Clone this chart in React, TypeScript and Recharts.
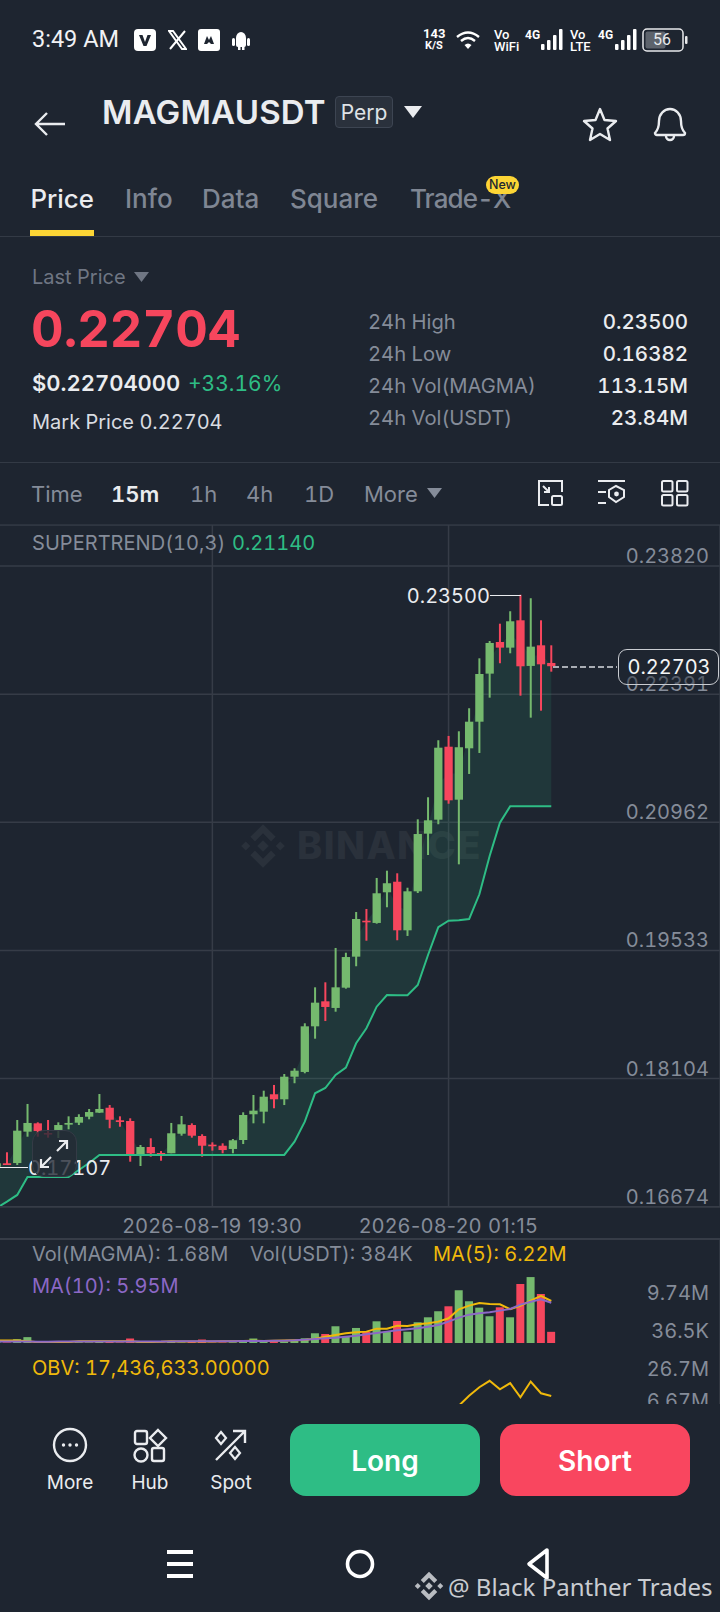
import React from "react";
import { ComposedChart, Bar, Line, Area, XAxis, YAxis, CartesianGrid, Cell } from "recharts";

const opens = [.22739,.22936,.22706,.23215,.22910,.22973,.22620,.22084,.21787,.21214,.21805,.20991,.20835,.20192,.19757,.20299,.20181,.19839,.19864,.19463,.19117,.18891,.18965,.18686,.18177,.18124,.17872,.17928,.17734,.17705,.17418,.17318,.17354,.17366,.17463,.17585,.17488,.17270,.17273,.17340,.17259,.17630,.17638,.17778,.17723,.17678,.17611,.17589,.17530,.17496,.17604,.17511,.17161,.17158,.17120];
const closes = [.22703,.22724,.22921,.22702,.23204,.22910,.22962,.22616,.22084,.21799,.21207,.21794,.20984,.20831,.20192,.19757,.20282,.20170,.19846,.19883,.19459,.19121,.18902,.18950,.18686,.18191,.18124,.17872,.17901,.17745,.17697,.17415,.17306,.17348,.17354,.17466,.17593,.17493,.17251,.17270,.17340,.17259,.17619,.17644,.17764,.17730,.17675,.17608,.17585,.17482,.17518,.17608,.17522,.17139,.17158];
const highs = [.22936,.23215,.23461,.23500,.23316,.23177,.22984,.22791,.22234,.21977,.21925,.21877,.21241,.20995,.20232,.20393,.20422,.20341,.19995,.19961,.19507,.19560,.19177,.19121,.18720,.18218,.18154,.18032,.17968,.17920,.17727,.17429,.17381,.17392,.17482,.17604,.17686,.17608,.17295,.17437,.17362,.17660,.17682,.17808,.17931,.17764,.17705,.17682,.17615,.17641,.17615,.17820,.17641,.17281,.17161];
const lows = [.22642,.22207,.22129,.22374,.22847,.22736,.22352,.21735,.21501,.20493,.21169,.20940,.20597,.20173,.19694,.19646,.20014,.19831,.19641,.19356,.19106,.18849,.18745,.18548,.18162,.18051,.17808,.17772,.17604,.17604,.17373,.17270,.17270,.17299,.17232,.17444,.17466,.17270,.17187,.17232,.17128,.17176,.17566,.17549,.17719,.17649,.17585,.17537,.17440,.17444,.17455,.17455,.17139,.17139,.17107];
const supertrend = [.21140,.21140,.21140,.21140,.21140,.20958,.20586,.20159,.19883,.19869,.19864,.19791,.19482,.19147,.19032,.19032,.19035,.18905,.18664,.18497,.18225,.18143,.17998,.17939,.17622,.17399,.17251,.17251,.17251,.17251,.17251,.17251,.17251,.17251,.17251,.17251,.17251,.17251,.17251,.17251,.17251,.17251,.17251,.17251,.17251,.17161,.17083,.17005,.17005,.17005,.17005,.17005,.16805,.16730,.16660];
const volumes = [1.68,7.25,9.74,8.72,3.82,5.29,3.97,5.24,6.18,7.80,5.44,4.71,3.82,3.09,1.70,3.28,1.66,3.23,1.70,2.25,.92,2.50,1.36,1.47,.73,.48,.25,.30,.25,.70,.30,.15,.12,.10,.55,.30,.12,.25,.08,.10,.30,.70,.12,.20,.22,.12,.15,.10,.20,.12,.18,.90,.60,.12,.15];
const ma5 = [6.22,6.96,6.27,5.49,5.00,5.73,5.78,5.93,5.54,5.00,3.67,3.18,2.94,2.79,2.54,2.59,2.15,2.15,1.71,1.61,1.46,1.22,.97,.68,.48,.43,.40,.36,.34,.36,.32,.30,.28,.24,.26,.26,.24,.28,.22,.20,.20,.30,.28,.28,.30,.28,.28,.20,.18,.16,.16,.30,.40,.40,.38];
const ma10 = [5.95,6.47,6.12,5.68,5.04,4.80,4.55,4.41,4.21,3.77,3.18,2.69,2.44,2.20,2.05,1.91,1.71,1.51,1.32,1.12,.97,.82,.73,.63,.53,.43,.38,.36,.34,.33,.32,.31,.30,.30,.30,.29,.28,.27,.25,.25,.24,.25,.24,.24,.24,.24,.24,.24,.24,.23,.22,.24,.25,.24,.24];
const obvRecent = [17.44,19.12,26.37,16.63,25.35,21.53,26.82,22.85,17.61,11.43];

const priceTicks = [0.16674, 0.18104, 0.19533, 0.20962, 0.22391, 0.2382];
const volumeTicks = [0.0365, 9.74];
const obvTicks = [6.67, 26.7];
const timeTickIndex = [21, 44];
const timeLabels = ["2026-08-19 19:30", "2026-08-20 01:15"];

const N = opens.length;
const rows = opens.map((_, k) => {
  const o = opens[k], c = closes[k];
  return {
    idx: N - 1 - k,
    open: o,
    close: c,
    high: highs[k],
    low: lows[k],
    range: [lows[k], highs[k]],
    supertrend: supertrend[k],
    band: [supertrend[k], (o + c) / 2],
    vol: volumes[k],
    ma5: ma5[k],
    ma10: ma10[k],
    obv: k < obvRecent.length ? obvRecent[k] : null,
  };
}).reverse();

const BG = "#1e2530";
const GRID = "#363c47";
const GREEN = "#75b96e";
const RED = "#f6465d";
const TEAL = "#2ebd85";
const GREY = "#858c99";
const FONT = "Inter, sans-serif";
const TAB = { fontVariantNumeric: "tabular-nums" } as any;
const CW = 740;
const XDOMAIN: [number, number] = [-1.626, 70.43];

function Candle(props: any) {
  const { x, y, width, height, payload } = props;
  const cx = x + width / 2;
  const span = payload.high - payload.low || 1;
  const top = y + ((payload.high - Math.max(payload.open, payload.close)) / span) * height;
  const bot = y + ((payload.high - Math.min(payload.open, payload.close)) / span) * height;
  const col = payload.close >= payload.open ? GREEN : RED;
  return (
    <g>
      <rect x={cx - 1} y={y} width={2} height={height} fill={col} />
      <rect x={x} y={top} width={width} height={Math.max(bot - top, 1.6)} fill={col} />
    </g>
  );
}

function priceTick(props: any) {
  const { y, payload } = props;
  return (
    <text x={CW - 11} y={y - 10} textAnchor="end" dominantBaseline="central" fontFamily={FONT} fontSize={20} fill={GREY} style={TAB}>
      {payload.value.toFixed(5)}
    </text>
  );
}
function volTick(props: any) {
  const { y, payload } = props;
  const isTop = payload.value > 1;
  return (
    <text x={CW - 11} y={isTop ? y + 15.5 : y - 12} textAnchor="end" dominantBaseline="central" fontFamily={FONT} fontSize={20} fill={GREY} style={TAB}>
      {isTop ? "9.74M" : "36.5K"}
    </text>
  );
}
function obvTick(props: any) {
  const { y, payload } = props;
  return (
    <text x={CW - 11} y={y - 12} textAnchor="end" dominantBaseline="central" fontFamily={FONT} fontSize={20} fill={GREY} style={TAB}>
      {payload.value + "M"}
    </text>
  );
}
function timeTick(props: any) {
  const { x, y, payload } = props;
  const label = timeLabels[timeTickIndex.indexOf(payload.value)];
  return (
    <text x={x} y={y + 11} textAnchor="middle" dominantBaseline="central" fontFamily={FONT} fontSize={20} letterSpacing={0.6} fill={GREY}>
      {label}
    </text>
  );
}

function T({ x, y, s = 20, c = GREY, w = 400, r, ca, ff = FONT, ls, children }: any) {
  const st: any = {
    position: "absolute",
    top: y,
    whiteSpace: "nowrap",
    fontFamily: ff,
    fontSize: s,
    color: c,
    fontWeight: w,
    lineHeight: 1,
    letterSpacing: ls,
    fontVariantNumeric: "tabular-nums",
    transform: ca ? "translate(-50%,-50%)" : "translateY(-50%)",
  };
  if (r !== undefined) st.right = 720 - r;
  else st.left = x;
  return <div style={st}>{children}</div>;
}
function Box({ x, y, w, h, style }: any) {
  return <div style={{ position: "absolute", left: x, top: y, width: w, height: h, ...style }} />;
}
function Svg({ x, y, w, h, children, vb }: any) {
  return (
    <svg style={{ position: "absolute", left: x, top: y }} width={w} height={h} viewBox={vb || `0 0 ${w} ${h}`}>
      {children}
    </svg>
  );
}
function Bars({ x, y }: any) {
  return (
    <Svg x={x} y={y} w={22} h={22}>
      <rect x="0" y="15" width="3.5" height="6" rx="1" fill="#fff" />
      <rect x="6" y="11" width="3.5" height="10" rx="1" fill="#fff" />
      <rect x="12" y="6" width="3.5" height="15" rx="1" fill="#fff" />
      <rect x="18" y="0" width="3.5" height="21" rx="1" fill="#fff" />
    </Svg>
  );
}
function Diamonds({ x, y, s, c }: any) {
  const d = (cx: number, cy: number, r: number) => `M${cx} ${cy - r}L${cx + r} ${cy}L${cx} ${cy + r}L${cx - r} ${cy}Z`;
  return (
    <Svg x={x} y={y} w={s} h={s} vb="0 0 40 40">
      <path d={d(20, 20, 5)} fill={c} />
      <path d={d(5, 20, 4)} fill={c} />
      <path d={d(35, 20, 4)} fill={c} />
      <path d="M20 1 L31 12 L27 16 L20 9 L13 16 L9 12 Z" fill={c} />
      <path d="M20 39 L31 28 L27 24 L20 31 L13 24 L9 28 Z" fill={c} />
    </Svg>
  );
}

function Status() {
  return (
    <>
      <T x={32} y={40} s={23.5} c="#f1f2f4" ff="Roboto">3:49 AM</T>
      <Svg x={134} y={29} w={22} h={22}>
        <rect width="22" height="22" rx="4" fill="#fff" />
        <path d="M5 6 L8.5 6 L11 13 L13.5 6 L17 6 L12.5 17 L9.5 17 Z" fill={BG} />
      </Svg>
      <Svg x={168} y={30} w={19} h={20}>
        <path d="M1 1 L5 1 L18 19 L14 19 Z M17 1 L2 19" stroke="#fff" strokeWidth="2" fill="none" />
      </Svg>
      <Svg x={198} y={29} w={22} h={22}>
        <rect width="22" height="22" rx="3" fill="#fff" />
        <path d="M6 15 L9 7 L11 11 L13 7 L16 15 L13 15 L11 13 L9 15 Z" fill={BG} />
      </Svg>
      <Svg x={232} y={30} w={18} h={20}>
        <path d="M4 8 a5 6 0 0 1 10 0 v7 a2 2 0 0 1 -2 2 h-6 a2 2 0 0 1 -2 -2 z" fill="#fff" />
        <rect x="0" y="8" width="3" height="8" rx="1.5" fill="#fff" />
        <rect x="15" y="8" width="3" height="8" rx="1.5" fill="#fff" />
        <rect x="6" y="16" width="2.5" height="4" fill="#fff" />
        <rect x="10" y="16" width="2.5" height="4" fill="#fff" />
      </Svg>
      <T x={423} y={33} s={13} c="#fff" w={700} ff="Roboto">143</T>
      <T x={425} y={45} s={11} c="#fff" w={700} ff="Roboto">K/S</T>
      <Svg x={456} y={30} w={26} h={22}>
        <path d="M1 7 Q12 -2 23 7 M5 11 Q12 5 19 11" stroke="#fff" strokeWidth="2.4" fill="none" />
        <path d="M8.5 15 Q12 12 15.5 15 L12 19 Z" fill="#fff" />
      </Svg>
      <T x={494} y={34} s={13} c="#fff" ff="Roboto" w={500}>Vo</T>
      <T x={494} y={46} s={13} c="#fff" ff="Roboto" w={500}>WiFi</T>
      <T x={525} y={35} s={12} c="#fff" ff="Roboto" w={700}>4G</T>
      <Bars x={541} y={29} />
      <T x={570} y={34} s={13} c="#fff" ff="Roboto" w={500}>Vo</T>
      <T x={570} y={46} s={13} c="#fff" ff="Roboto" w={500}>LTE</T>
      <T x={598} y={35} s={12} c="#fff" ff="Roboto" w={700}>4G</T>
      <Bars x={615} y={29} />
      <Svg x={642} y={28} w={46} h={24}>
        <rect x="1" y="1" width="40" height="22" rx="4" stroke="#e8e9eb" strokeWidth="1.5" fill="none" />
        <rect x="3.5" y="3.5" width="20" height="17" rx="2" fill="#5d636c" />
        <rect x="43" y="8" width="2.5" height="8" rx="1" fill="#e8e9eb" />
      </Svg>
      <T x={662} y={40} s={16} c="#e8e9eb" ca ff="Roboto">56</T>
    </>
  );
}

function Header() {
  return (
    <>
      <Svg x={33} y={110} w={34} h={28}>
        <path d="M32 14 H3 M14 3 L3 14 L14 25" stroke="#eaecef" strokeWidth="2.4" fill="none" />
      </Svg>
      <T x={102} y={112} s={33} c="#eaecef" w={600} ls="0.2px">MAGMAUSDT</T>
      <div style={{ position: "absolute", left: 335, top: 96, width: 58, height: 32, boxSizing: "border-box", border: "1px solid #3d4552", borderRadius: 4, background: "#2a313c" }} />
      <T x={364} y={112} s={21} c="#dfe2e6" ca>Perp</T>
      <Svg x={404} y={106} w={18} h={13}>
        <path d="M0 0 H18 L9 12 Z" fill="#eaecef" />
      </Svg>
      <Svg x={582} y={107} w={36} h={35}>
        <path d="M18 2 L22.5 13 L34 14 L25.5 21.5 L28 33 L18 27 L8 33 L10.5 21.5 L2 14 L13.5 13 Z" stroke="#eaecef" strokeWidth="2.4" fill="none" strokeLinejoin="round" />
      </Svg>
      <Svg x={652} y={106} w={36} h={36}>
        <path d="M3 27 Q7 23 7 15 a11 12 0 0 1 22 0 Q29 23 33 27 Q33 29 31 29 H5 Q3 29 3 27 Z M14 30 a4 4 0 0 0 8 0" stroke="#eaecef" strokeWidth="2.4" fill="none" />
      </Svg>

      <T x={30.5} y={199} s={25.8} c="#eaecef" w={500}>Price</T>
      <T x={125} y={199} s={26} c="#7f8693" w={500}>Info</T>
      <T x={202} y={199} s={26} c="#7f8693" w={500}>Data</T>
      <T x={290} y={199} s={26} c="#7f8693" w={500}>Square</T>
      <T x={410} y={199} s={26} c="#7f8693" w={500} ls="-0.9px">Trade-X</T>
      <Box x={486} y={176} w={33} h={18} style={{ background: "#fcd535", borderRadius: 9 }} />
      <T x={502.5} y={185} s={12.5} c="#202630" w={500} ca>New</T>
      <Box x={30} y={230} w={64} h={6} style={{ background: "#fcd535" }} />
      <Box x={0} y={236} w={720} h={1} style={{ background: "#333a45" }} />

      <T x={32} y={277} s={20} c="#6f7683">Last Price</T>
      <Svg x={134} y={272} w={15} h={10}>
        <path d="M0 0 H15 L7.5 10 Z" fill="#6f7683" />
      </Svg>
      <T x={31} y={329} s={50.5} c={RED} w={700}>0.22704</T>
      <T x={32} y={383} s={22} c="#eaecef" w={600}>$0.22704000</T>
      <T x={188} y={383} s={21} c={TEAL}>+33.16%</T>
      <T x={32} y={422} s={20} c="#d9dce1">Mark Price 0.22704</T>

      <T x={368} y={322} s={20.2} c={GREY}>24h High</T>
      <T x={368} y={354} s={20.2} c={GREY}>24h Low</T>
      <T x={368} y={386} s={20.2} c={GREY}>24h Vol(MAGMA)</T>
      <T x={368} y={418} s={20.2} c={GREY}>24h Vol(USDT)</T>
      <T r={688} y={322} s={20.5} c="#eaecef" w={500}>0.23500</T>
      <T r={688} y={354} s={20.5} c="#eaecef" w={500}>0.16382</T>
      <T r={688} y={386} s={20.5} c="#eaecef" w={500}>113.15M</T>
      <T r={688} y={418} s={20.5} c="#eaecef" w={500}>23.84M</T>
      <Box x={0} y={462} w={720} h={1} style={{ background: "#333a45" }} />

      <T x={31} y={494} s={22} c={GREY}>Time</T>
      <T x={111} y={494} s={22} c="#eaecef" w={600}>15m</T>
      <T x={190} y={494} s={22} c={GREY}>1h</T>
      <T x={246} y={494} s={22} c={GREY}>4h</T>
      <T x={304} y={494} s={22} c={GREY}>1D</T>
      <T x={364} y={494} s={22} c={GREY}>More</T>
      <Svg x={427} y={488} w={15} h={10}>
        <path d="M0 0 H15 L7.5 10 Z" fill={GREY} />
      </Svg>
      <Svg x={537} y={479} w={28} h={28}>
        <path d="M12 26 H2 V2 H25 V13" stroke="#eaecef" strokeWidth="2" fill="none" />
        <rect x="15" y="17" width="10" height="9" rx="1.5" stroke="#eaecef" strokeWidth="2" fill="none" />
        <path d="M6 7 L12 13 M12 8 V13 H7" stroke="#eaecef" strokeWidth="2" fill="none" />
      </Svg>
      <Svg x={597} y={479} w={30} h={28}>
        <path d="M1 2 H28 M1 13 H9 M1 24 H9" stroke="#eaecef" strokeWidth="2.2" fill="none" />
        <path d="M19 7 L27 11 V18 L19 23 L12 18 V11 Z" stroke="#eaecef" strokeWidth="2" fill="none" />
        <circle cx="19.5" cy="15" r="2.4" fill="#eaecef" />
      </Svg>
      <Svg x={661} y={480} w={28} h={27}>
        <rect x="1" y="1" width="10.5" height="10.5" rx="1.5" stroke="#eaecef" strokeWidth="2" fill="none" />
        <rect x="16" y="1" width="10.5" height="10.5" rx="1.5" stroke="#eaecef" strokeWidth="2" fill="none" />
        <rect x="1" y="15" width="10.5" height="10.5" rx="1.5" stroke="#eaecef" strokeWidth="2" fill="none" />
        <rect x="16" y="15" width="10.5" height="10.5" rx="1.5" stroke="#eaecef" strokeWidth="2" fill="none" />
      </Svg>
      <Box x={0} y={524} w={720} h={1} style={{ background: "#2c333e" }} />
    </>
  );
}

function Footer() {
  return (
    <>
      <Svg x={52} y={1427} w={36} h={36}>
        <circle cx="18" cy="18" r="16" stroke="#eaecef" strokeWidth="2.4" fill="none" />
        <circle cx="11.5" cy="18" r="1.7" fill="#eaecef" />
        <circle cx="18" cy="18" r="1.7" fill="#eaecef" />
        <circle cx="24.5" cy="18" r="1.7" fill="#eaecef" />
      </Svg>
      <Svg x={133} y={1428} w={36} h={36}>
        <rect x="2" y="3" width="12" height="13" rx="2" stroke="#eaecef" strokeWidth="2.4" fill="none" />
        <path d="M25 2 L33 10 L25 18 L17 10 Z" stroke="#eaecef" strokeWidth="2.4" fill="none" />
        <circle cx="8" cy="27" r="6.5" stroke="#eaecef" strokeWidth="2.4" fill="none" />
        <rect x="19" y="20" width="12" height="13" rx="2" stroke="#eaecef" strokeWidth="2.4" fill="none" />
      </Svg>
      <Svg x={213} y={1428} w={36} h={36}>
        <path d="M3 32 L32 3 M20 3 H32 V15" stroke="#eaecef" strokeWidth="2.4" fill="none" />
        <path d="M8 4 L13 10 L8 16 L3 10 Z M22 19 L27 25 L22 31 L17 25 Z" stroke="#eaecef" strokeWidth="2.2" fill="none" />
      </Svg>
      <T x={70} y={1482} s={19} c="#eaecef" ca>More</T>
      <T x={150} y={1482} s={19} c="#eaecef" ca>Hub</T>
      <T x={231} y={1482} s={19} c="#eaecef" ca>Spot</T>
      <Box x={290} y={1424} w={190} h={72} style={{ background: TEAL, borderRadius: 16 }} />
      <T x={385} y={1461} s={28} c="#fff" w={600} ca>Long</T>
      <Box x={500} y={1424} w={190} h={72} style={{ background: "#f9465f", borderRadius: 16 }} />
      <T x={595} y={1461} s={28} c="#fff" w={600} ca>Short</T>
      <Box x={167} y={1550} w={26} h={4} style={{ background: "#fff" }} />
      <Box x={167} y={1562} w={26} h={4} style={{ background: "#fff" }} />
      <Box x={167} y={1574} w={26} h={4} style={{ background: "#fff" }} />
      <Svg x={345} y={1549} w={30} h={30}>
        <circle cx="15" cy="15" r="12.5" stroke="#fff" strokeWidth="3.6" fill="none" />
      </Svg>
      <Svg x={525} y={1547} w={26} h={34}>
        <path d="M22 3 L4 17 L22 31 Z" stroke="#fff" strokeWidth="3.6" fill="none" strokeLinejoin="round" />
      </Svg>
      <Diamonds x={414} y={1571} s={30} c="#b9bcc1" />
      <T x={448} y={1587} s={24} c="#c9ccd1" ff="'Noto Sans'">@ Black Panther Trades</T>
    </>
  );
}

export default function App() {
  return (
    <div style={{ position: "absolute", left: 0, top: 0, width: 720, height: 1612, background: BG, overflow: "hidden" }}>
      <Status />
      <Header />

      {/* watermark sits behind the plot */}
      <Diamonds x={240} y={823} s={46} c="#2a313b" />
      <T x={297} y={845} s={38} c="#2a313b" w={800} ls="1.4px">BINANCE</T>

      <div style={{ position: "absolute", left: -20, top: 525 }}>
        <ComposedChart width={CW} height={713} data={rows} margin={{ top: 0, right: 0, bottom: 0, left: 0 }}>
          <CartesianGrid stroke={GRID} strokeWidth={1.5} />
          <XAxis dataKey="idx" type="number" domain={XDOMAIN} ticks={timeTickIndex} allowDataOverflow height={31.3} tick={timeTick} tickLine={false} axisLine={{ stroke: GRID, strokeWidth: 1.5 }} interval={0} />
          <YAxis orientation="right" mirror domain={[0.16674, 0.24278]} ticks={priceTicks} allowDataOverflow tick={priceTick} tickLine={false} axisLine={false} width={60} interval={0} />
          <Area dataKey="band" type="linear" stroke="none" fill={TEAL} fillOpacity={0.12} isAnimationActive={false} />
          <Bar dataKey="range" barSize={8.3} shape={Candle} isAnimationActive={false} />
          <Line dataKey="supertrend" type="linear" stroke={TEAL} strokeWidth={2} dot={false} isAnimationActive={false} />
        </ComposedChart>
      </div>

      {/* extreme and last price marks */}
      <T r={490} y={596} s={20} c="#eaecef">0.23500</T>
      <Box x={490} y={595} w={31} h={1} style={{ background: "#eaecef" }} />
      <T x={28} y={1168} s={20} c="#eaecef">0.17107</T>
      <Box x={0} y={1167} w={28} h={1} style={{ background: "#eaecef" }} />
      <Box x={553} y={666} w={64} h={1.5} style={{ background: "repeating-linear-gradient(90deg,#a9adb4 0 6px,transparent 6px 9px)" }} />
      <div style={{ position: "absolute", left: 618, top: 649, width: 101, height: 36, boxSizing: "border-box", border: "1px solid #c9ccd1", borderRadius: 9, background: "rgba(30,37,48,0.45)" }} />
      <T x={669} y={667} s={20} c="#f4f5f6" ca>0.22703</T>
      <div style={{ position: "absolute", left: 32, top: 1130, width: 45, height: 47, boxSizing: "border-box", border: "1.5px solid #343b46", borderRadius: 12, background: "rgba(36,42,54,0.8)" }} />
      <Svg x={38} y={1138} w={32} h={32}>
        <path d="M19 13 L29 3 M21 3 H29 V11 M13 19 L3 29 M3 21 V29 H11" stroke="#eaecef" strokeWidth="2.2" fill="none" />
      </Svg>

      <T x={32} y={543} s={20} c={GREY} ls="0.05px">SUPERTREND(10,3)</T>
      <T x={232} y={543} s={20} c={TEAL}>0.21140</T>

      <Box x={0} y={1238} w={720} h={1.5} style={{ background: GRID }} />
      <div style={{ position: "absolute", left: -20, top: 1238 }}>
        <ComposedChart width={CW} height={105.5} data={rows} margin={{ top: 0, right: 0, bottom: 0.5, left: 0 }}>
          <CartesianGrid stroke={GRID} strokeWidth={1.5} horizontal={false} />
          <XAxis dataKey="idx" type="number" domain={XDOMAIN} ticks={timeTickIndex} allowDataOverflow height={0} tick={false} tickLine={false} axisLine={{ stroke: GRID, strokeWidth: 2.5 }} interval={0} />
          <YAxis orientation="right" mirror domain={[0.0365, 15.49]} ticks={volumeTicks} allowDataOverflow tick={volTick} tickLine={false} axisLine={false} width={60} interval={0} />
          <Bar dataKey="vol" barSize={8} isAnimationActive={false}>
            {rows.map((r) => (
              <Cell key={r.idx} fill={r.close >= r.open ? GREEN : RED} />
            ))}
          </Bar>
          <Line dataKey="ma5" type="linear" stroke="#f0b90b" strokeWidth={2} dot={false} isAnimationActive={false} />
          <Line dataKey="ma10" type="linear" stroke="#8c68c6" strokeWidth={2} dot={false} isAnimationActive={false} />
        </ComposedChart>
      </div>
      <T x={32} y={1254} s={20} c={GREY}>Vol(MAGMA): 1.68M</T>
      <T x={250} y={1254} s={20} c={GREY}>Vol(USDT): 384K</T>
      <T x={433} y={1254} s={20} c="#f0b90b">MA(5): 6.22M</T>
      <T x={32} y={1286} s={20} c="#8c68c6">MA(10): 5.95M</T>

      <div style={{ position: "absolute", left: 0, top: 1343, width: 720, height: 61, overflow: "hidden" }}>
        <div style={{ position: "absolute", left: -20, top: 0 }}>
          <ComposedChart width={CW} height={70.4} data={rows} margin={{ top: 0, right: 0, bottom: 0, left: 0 }}>
            <CartesianGrid stroke={GRID} strokeWidth={1.5} horizontal={false} />
            <XAxis dataKey="idx" type="number" domain={XDOMAIN} ticks={timeTickIndex} allowDataOverflow height={0} tick={false} tickLine={false} axisLine={false} interval={0} />
            <YAxis orientation="right" mirror domain={[6.67, 50.2]} ticks={obvTicks} allowDataOverflow tick={obvTick} tickLine={false} axisLine={false} width={60} interval={0} />
            <Line dataKey="obv" type="linear" stroke="#f0b90b" strokeWidth={2} dot={false} isAnimationActive={false} />
          </ComposedChart>
        </div>
      </div>
      <T x={32} y={1368} s={20} c="#f0b90b">OBV: 17,436,633.00000</T>

      <Footer />
    </div>
  );
}
